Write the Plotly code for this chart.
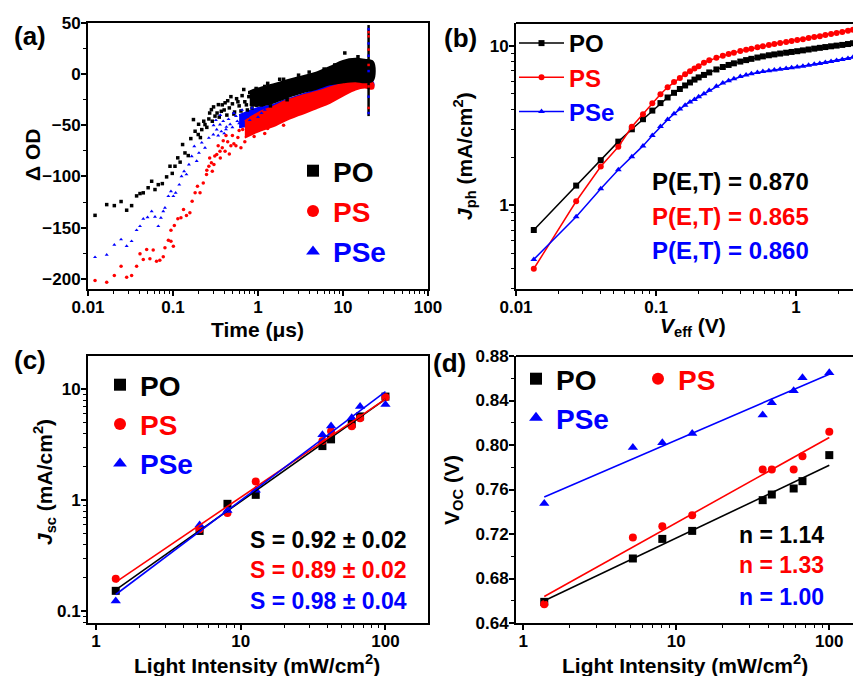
import numpy as np
import plotly.graph_objects as go

W, H = 853, 676
FONT = "Liberation Sans, Arial, sans-serif"
BLACK, RED, BLUE = "#000000", "#ff0000", "#0000ff"


def px(x):
    return x / W


def py(y):
    return 1 - y / H


# ---------------- (a) transient absorption ----------------
a_po_x = [0.0121, 0.0166, 0.0204, 0.0245, 0.0285, 0.0326, 0.0373, 0.0409, 0.0447, 0.051,
          0.0561, 0.0614, 0.0671, 0.0749, 0.0841, 0.0922, 0.098, 0.1055, 0.1138, 0.1213,
          0.1297, 0.1383, 0.1512, 0.162, 0.174, 0.182, 0.198, 0.218, 0.238, 0.264,
          0.283, 0.312, 0.342, 0.37, 0.41, 0.2, 0.21, 0.23, 0.25, 0.27,
          0.29, 0.3, 0.33, 0.35, 0.38, 0.4, 0.44, 0.46, 0.5, 0.53,
          0.56, 0.6, 0.65, 0.7, 0.75, 0.8, 0.9, 1.0, 1.1, 1.2,
          0.43, 0.48, 0.52, 0.58, 0.63, 0.68, 0.73, 0.78, 0.85, 0.95,
          1.05, 1.3, 1.4, 1.6, 1.8, 2.2, 2.6,
          2.0, 3.0, 4.0, 6.0, 8.0, 10.5, 15.0]
a_po_y = [-138, -127.5, -128.5, -124.5, -133, -128.5, -119, -116.7, -116, -111,
          -104.7, -112.8, -108, -107, -100.4, -90, -97, -90, -81.8, -86,
          -68.8, -77, -79.6, -63, -44.4, -55.8, -59, -54.2, -49.3, -43.8,
          -34.7, -41, -29.8, -36.3, -28, -49, -62, -46, -52, -38,
          -46, -32, -38, -42, -30, -35, -26, -33, -29, -37,
          -24, -31, -21, -27, -35, -18, -24, -16, -30, -12,
          -40, -22, -39, -27, -36, -15, -30, -22, -33, -14,
          -26, -9, -31, -13, -5, -25, -8,
          -5, -1, 2, 5, 9, 20.7, 17]

a_ps_x = [0.0121, 0.0166, 0.0204, 0.0245, 0.0285, 0.0326, 0.0373, 0.0409, 0.0447, 0.049,
          0.0535, 0.0585, 0.064, 0.07, 0.0768, 0.0804, 0.0882, 0.0946, 0.101, 0.0946,
          0.1037, 0.114, 0.124, 0.133, 0.144, 0.158, 0.168, 0.182, 0.194, 0.208,
          0.227, 0.248, 0.264, 0.283, 0.303, 0.327, 0.357, 0.38, 0.41, 0.25,
          0.27, 0.29, 0.31, 0.34, 0.36, 0.39, 0.44, 0.46, 0.5, 0.55,
          0.6, 0.7, 0.8, 0.9, 1.0, 1.2, 1.5,
          0.42, 0.48, 0.52, 0.58, 0.63, 0.66, 0.75, 0.85, 0.95, 1.1,
          1.3, 1.7, 2.0, 2.4]
a_ps_y = [-201.6, -203.3, -196.8, -187.7, -198.4, -196.8, -187.7, -175.6, -181.2, -171.4,
          -180.5, -172, -182.8, -181.8, -178.5, -169.7, -162.3, -163.3, -168.2, -152.5,
          -148, -141.4, -140.4, -132.3, -138.2, -135.5, -124.2, -116, -109.6, -116,
          -106.3, -98.2, -90, -86.7, -88.4, -78.6, -75.4, -72, -75.4, -94,
          -82, -95, -80, -70, -82, -65, -66, -78, -60, -70,
          -55, -66, -52, -61, -48, -58, -44,
          -60, -70, -68, -62, -72, -54, -58, -47, -55, -42,
          -53, -39, -50, -35]

a_pse_x = [0.0121, 0.0166, 0.0204, 0.0245, 0.0285, 0.0326, 0.0373, 0.0409, 0.0447, 0.0502,
           0.0561, 0.0614, 0.0671, 0.0721, 0.0768, 0.0804, 0.0882, 0.0946, 0.101, 0.1075,
           0.1185, 0.126, 0.135, 0.144, 0.154, 0.166, 0.178, 0.19, 0.202, 0.218,
           0.238, 0.264, 0.298, 0.327, 0.357, 0.39, 0.425, 0.3, 0.34, 0.37,
           0.4, 0.45, 0.5, 0.55, 0.6, 0.7, 0.8, 0.9, 1.0, 1.2,
           0.32, 0.36, 0.42, 0.47, 0.52, 0.57, 0.65, 0.75, 0.85, 1.1]
a_pse_y = [-178.9, -176.6, -166.8, -161.6, -168, -163.3, -152.5, -148.6, -141.4, -139.9,
           -134, -139.5, -148.6, -140.4, -134, -130.7, -119.3, -114.5, -119.3, -116,
           -108, -99.8, -95, -98, -88.4, -80.3, -70.5, -85, -77, -67,
           -72, -62.3, -59, -54.2, -49.3, -46, -51.6, -50, -60, -56,
           -58, -44, -52, -41, -48, -40, -45, -37, -42, -35,
           -45, -40, -54, -49, -38, -46, -35, -42, -33, -38]

# dense bands (envelopes of the point clouds)
a_po_band_x = [0.8, 1, 1.5, 2, 3, 5, 7, 10, 14, 18, 22.5]
a_po_band_top = [-17, -14, -10, -7, -3, 2, 7, 13, 15, 14, 12]
a_po_band_bot = [-30, -31, -28, -24, -19, -14, -10, -8, -7, -8, -6]
a_ps_band_x = [0.7, 1, 1.5, 2, 3, 5, 7, 10, 14, 18, 22.5]
a_ps_band_top = [-46, -38, -32, -27, -22, -17, -13, -9, -5, -6, -9]
a_ps_band_bot = [-62, -56, -51, -46, -40, -33, -28, -21, -15, -13, -14]
a_pse_band_x = [0.6, 0.8, 1, 1.5, 2, 3, 5, 7, 10, 14, 18, 22.5]
a_pse_band_top = [-40, -36, -33, -30, -26, -21, -15, -11, -7, -4, -5, -8]
a_pse_band_bot = [-52, -50, -48, -45, -42, -36, -30, -25, -19, -13, -12, -12]

a_spike_x = [20, 20]
a_spike_y = [-41, 48]
a_spike_col_x = [20, 20, 20, 20, 20, 20]
a_spike_pse_y = [-38, -22, 3, 18, 30, 44]
a_spike_ps_y = [-33, -12, 9, 24, 37, 41]

# ---------------- (b) Jph vs Veff ----------------
b_veff = [0.0134, 0.0269, 0.0403, 0.0538, 0.0672, 0.0807, 0.0941, 0.1076, 0.121, 0.1345,
          0.148, 0.1614, 0.1748, 0.1883, 0.2017, 0.22, 0.24, 0.27, 0.30, 0.33,
          0.36, 0.40, 0.44, 0.48, 0.53, 0.58, 0.64, 0.70, 0.77, 0.85,
          0.93, 1.02, 1.12, 1.23, 1.35, 1.48, 1.62, 1.78, 1.95, 2.14,
          2.35, 2.55]
b_po = [0.70, 1.33, 1.92, 2.51, 3.00, 3.47, 3.93, 4.38, 4.75, 5.08,
        5.37, 5.65, 5.90, 6.15, 6.35, 6.58, 6.82, 7.12, 7.38, 7.60,
        7.78, 7.98, 8.15, 8.30, 8.46, 8.60, 8.74, 8.85, 8.96, 9.07,
        9.17, 9.27, 9.38, 9.50, 9.62, 9.73, 9.84, 9.95, 10.05, 10.15,
        10.28, 10.40]
b_ps = [0.40, 1.06, 1.75, 2.33, 3.11, 3.73, 4.37, 4.98, 5.50, 5.95,
        6.30, 6.65, 6.95, 7.22, 7.45, 7.85, 8.12, 8.42, 8.68, 8.90,
        9.08, 9.28, 9.45, 9.62, 9.80, 9.96, 10.12, 10.27, 10.42, 10.58,
        10.73, 10.88, 11.03, 11.2, 11.36, 11.52, 11.7, 11.88, 12.05, 12.25,
        12.45, 12.65]
b_pse = [0.458, 0.848, 1.27, 1.67, 2.02, 2.36, 2.74, 3.12, 3.45, 3.75,
         4.02, 4.25, 4.45, 4.62, 4.80, 5.02, 5.28, 5.58, 5.85, 6.05,
         6.22, 6.42, 6.58, 6.70, 6.82, 6.92, 7.00, 7.06, 7.13, 7.22,
         7.30, 7.38, 7.47, 7.57, 7.67, 7.77, 7.88, 7.99, 8.10, 8.22,
         8.35, 8.48]

# ---------------- (c) Jsc vs light intensity ----------------
light = [1.37, 5.2, 8.1, 12.7, 36.7, 42.1, 58.5, 66.8, 100]
c_po = [0.153, 0.53, 0.93, 1.12, 3.08, 3.54, 4.9, 5.7, 8.6]
c_ps = [0.197, 0.55, 0.77, 1.48, 3.42, 4.2, 4.65, 5.5, 8.5]
c_pse = [0.124, 0.6, 0.81, 1.23, 3.9, 4.67, 5.54, 7.0, 7.3]

# ---------------- (d) Voc vs light intensity ----------------
d_po = [0.659, 0.698, 0.7156, 0.7228, 0.7504, 0.7555, 0.7609, 0.7675, 0.7909]
d_ps = [0.6568, 0.7168, 0.727, 0.7369, 0.778, 0.778, 0.778, 0.79, 0.8119]
d_pse = [0.7474, 0.7978, 0.802, 0.8104, 0.8269, 0.838, 0.8488, 0.8605, 0.865]

names = ["PO", "PS", "PSe"]
colors = [BLACK, RED, BLUE]
symbols = ["square", "circle", "triangle-up"]

fig = go.Figure()

# ---- (a) bands: blue, red, black
for bx, bt, bb, col in [(a_pse_band_x, a_pse_band_top, a_pse_band_bot, BLUE),
                        (a_ps_band_x, a_ps_band_top, a_ps_band_bot, RED),
                        (a_po_band_x, a_po_band_top, a_po_band_bot, BLACK)]:
    fig.add_trace(go.Scatter(x=bx + bx[::-1], y=bt + bb[::-1], mode="lines", fill="toself",
                             fillcolor=col, line=dict(color=col, width=2, shape="spline"),
                             xaxis="x", yaxis="y", showlegend=False, hoverinfo="skip"))
fig.add_trace(go.Scatter(x=a_spike_x, y=a_spike_y, mode="lines", line=dict(color=BLACK, width=2.5),
                         xaxis="x", yaxis="y", showlegend=False))
fig.add_trace(go.Scatter(x=a_spike_col_x, y=a_spike_pse_y, mode="markers",
                         marker=dict(color=BLUE, size=2.5, symbol="square"),
                         xaxis="x", yaxis="y", showlegend=False))
fig.add_trace(go.Scatter(x=a_spike_col_x, y=a_spike_ps_y, mode="markers",
                         marker=dict(color=RED, size=2.5, symbol="square"),
                         xaxis="x", yaxis="y", showlegend=False))
for xs, ys, nm, col, sym in [(a_po_x, a_po_y, "PO", BLACK, "square"),
                             (a_ps_x, a_ps_y, "PS", RED, "circle"),
                             (a_pse_x, a_pse_y, "PSe", BLUE, "triangle-up")]:
    fig.add_trace(go.Scatter(x=xs, y=ys, mode="markers", name=f'<span style="color:{col}">{nm}</span>',
                             marker=dict(color=col, size=3.5, symbol=sym),
                             xaxis="x", yaxis="y", legend="legend", legendgroup="a" + nm))

# ---- (b)
for ys, nm, col, sym in zip([b_po, b_ps, b_pse], names, colors, symbols):
    fig.add_trace(go.Scatter(x=b_veff, y=ys, mode="lines+markers",
                             name=f'<span style="color:{col}">{nm}</span>',
                             line=dict(color=col, width=1.5),
                             marker=dict(color=col, size=6, symbol=sym),
                             xaxis="x2", yaxis="y2", legend="legend2", legendgroup="b" + nm))

# ---- (c)
lx = np.log10(np.array(light))
for ys, nm, col, sym in zip([c_po, c_ps, c_pse], names, colors, symbols):
    fig.add_trace(go.Scatter(x=light, y=ys, mode="markers",
                             name=f'<span style="color:{col}">{nm}</span>',
                             marker=dict(color=col, size=9 if sym == "triangle-up" else 8, symbol=sym),
                             xaxis="x3", yaxis="y3", legend="legend3", legendgroup="c" + nm))
for ys, col in zip([c_po, c_ps, c_pse], colors):
    k, b = np.polyfit(lx, np.log10(np.array(ys)), 1)
    fx = [light[0], light[-1]]
    fy = [10 ** (k * np.log10(v) + b) for v in fx]
    fig.add_trace(go.Scatter(x=fx, y=fy, mode="lines", line=dict(color=col, width=1.6),
                             xaxis="x3", yaxis="y3", showlegend=False))

# ---- (d)
for ys, nm, col, sym, lg in zip([d_po, d_ps, d_pse], names, colors, symbols,
                                ["legend4", "legend4", "legend5"]):
    fig.add_trace(go.Scatter(x=light, y=ys, mode="markers",
                             name=f'<span style="color:{col}">{nm}</span>',
                             marker=dict(color=col, size=9 if sym == "triangle-up" else 8, symbol=sym),
                             xaxis="x4", yaxis="y4", legend=lg))
for ys, col in zip([d_po, d_ps, d_pse], colors):
    k, b = np.polyfit(lx, np.array(ys), 1)
    fx = [light[0], light[-1]]
    fy = [k * np.log10(v) + b for v in fx]
    fig.add_trace(go.Scatter(x=fx, y=fy, mode="lines", line=dict(color=col, width=1.6),
                             xaxis="x4", yaxis="y4", showlegend=False))


def log_minor(e0, e1):
    return [m * 10 ** e for e in range(e0, e1) for m in range(2, 10)]


tickfont = dict(family=FONT, size=17, color="black", weight="bold")
common = dict(showgrid=False, zeroline=False, showline=True, linecolor="black", linewidth=2,
              ticks="outside", ticklen=5, tickwidth=1.5, tickcolor="black", tickfont=tickfont,
              automargin=False, ticklabelstandoff=-3)
minor_style = dict(ticks="outside", ticklen=3, tickwidth=1.2, tickcolor="black", showgrid=False)

xa = [px(88), px(428)]
xb = [px(516), 1.0]
ya = [py(289), py(23)]
yc = [py(623), py(356)]

fig.update_layout(
    template="none",
    width=W, height=H, margin=dict(l=0, r=0, t=0, b=0, autoexpand=False),
    paper_bgcolor="white", plot_bgcolor="white",
    font=dict(family=FONT, color="black"),
    xaxis=dict(domain=xa, anchor="y", type="log", range=[-2, 2], mirror=True,
               tickvals=[0.01, 0.1, 1, 10, 100], ticktext=["0.01", "0.1", "1", "10", "100"],
               minor=dict(tickvals=log_minor(-2, 2), **minor_style), **common),
    yaxis=dict(domain=ya, anchor="x", range=[-210, 50], mirror=True,
               tickvals=[-200, -150, -100, -50, 0, 50],
               minor=dict(dtick=25, tick0=0, **minor_style), **common),
    xaxis2=dict(domain=xb, anchor="y2", type="log", range=[-2, 0.407],
                tickvals=[0.01, 0.1, 1], ticktext=["0.01", "0.1", "1"],
                minor=dict(tickvals=log_minor(-2, 1), **minor_style), **common),
    yaxis2=dict(domain=ya, anchor="x2", type="log", range=[-0.525, 1.144],
                tickvals=[1, 10], ticktext=["1", "10"],
                minor=dict(tickvals=log_minor(-1, 2), **minor_style), **common),
    xaxis3=dict(domain=xa, anchor="y3", type="log", range=[-0.055, 2.294], mirror=True,
                tickvals=[1, 10, 100], ticktext=["1", "10", "100"],
                minor=dict(tickvals=log_minor(0, 3), **minor_style), **common),
    yaxis3=dict(domain=yc, anchor="x3", type="log", range=[-1.105, 1.3], mirror=True,
                tickvals=[0.1, 1, 10], ticktext=["0.1", "1", "10"],
                minor=dict(tickvals=log_minor(-2, 2), **minor_style), **common),
    xaxis4=dict(domain=xb, anchor="y4", type="log", range=[-0.048, 2.155],
                tickvals=[1, 10, 100], ticktext=["1", "10", "100"],
                minor=dict(tickvals=log_minor(0, 3), **minor_style), **common),
    yaxis4=dict(domain=yc, anchor="x4", range=[0.64, 0.88],
                tickvals=[0.64, 0.68, 0.72, 0.76, 0.80, 0.84, 0.88],
                ticktext=["0.64", "0.68", "0.72", "0.76", "0.80", "0.84", "0.88"],
                minor=dict(dtick=0.02, tick0=0.64, **minor_style), **common),
    legend=dict(x=px(293), y=py(146), xanchor="left", yanchor="top", bgcolor="rgba(0,0,0,0)",
                font=dict(family=FONT, size=28, weight="bold"), itemsizing="constant",
                traceorder="grouped", tracegroupgap=1),
    legend2=dict(x=px(514), y=py(21), xanchor="left", yanchor="top", bgcolor="rgba(0,0,0,0)",
                 font=dict(family=FONT, size=24, weight="bold"), itemsizing="trace",
                 itemwidth=45, traceorder="grouped", tracegroupgap=0),
    legend3=dict(x=px(100), y=py(360), xanchor="left", yanchor="top", bgcolor="rgba(0,0,0,0)",
                 font=dict(family=FONT, size=28, weight="bold"), itemsizing="constant",
                 traceorder="grouped", tracegroupgap=0),
    legend4=dict(x=px(516), y=py(354), xanchor="left", yanchor="top", bgcolor="rgba(0,0,0,0)",
                 orientation="h", entrywidth=77, entrywidthmode="pixels",
                 font=dict(family=FONT, size=28, weight="bold"), itemsizing="constant"),
    legend5=dict(x=px(516), y=py(393), xanchor="left", yanchor="top", bgcolor="rgba(0,0,0,0)",
                 font=dict(family=FONT, size=28, weight="bold"), itemsizing="constant"),
)

# top border lines for the right-hand panels (cut at the image edge)
for xr, yr in [("x2", "y2"), ("x4", "y4")]:
    fig.add_shape(type="line", xref=f"{xr} domain", yref=f"{yr} domain", x0=0, x1=1, y0=1, y1=1,
                  line=dict(color="black", width=2))


def ann(text, x, y, size, color="black", angle=0, xanchor="center"):
    fig.add_annotation(text=text, x=px(x), y=py(y), xref="paper", yref="paper",
                       showarrow=False, textangle=angle, xanchor=xanchor, yanchor="middle",
                       font=dict(family=FONT, size=size, color=color, weight="bold"))


# panel labels
ann("(a)", 30, 36, 26)
ann("(b)", 460, 38, 26)
ann("(c)", 30, 360, 26)
ann("(d)", 450, 363, 26)

# axis titles
ann("Time (μs)", 257, 329, 21)
ann("<i>V</i><sub>eff</sub> (V)", 693, 327, 21)
ann("Δ OD", 32, 155, 21, angle=-90)
ann("<i>J</i><sub>ph</sub> (mA/cm<sup>2</sup>)", 464, 156, 21, angle=-90)
ann("<i>J</i><sub>sc</sub> (mA/cm<sup>2</sup>)", 44, 482, 21, angle=-90)
ann("V<sub>OC</sub> (V)", 453, 490, 21, angle=-90)
ann("Light Intensity (mW/cm<sup>2</sup>)", 257, 664, 21)
ann("Light Intensity (mW/cm<sup>2</sup>)", 685, 664, 21)

# fit / parameter texts
for t, yy, col in [("P(E,T) = 0.870", 182, BLACK), ("P(E,T) = 0.865", 217, RED),
                   ("P(E,T) = 0.860", 250, BLUE)]:
    ann(t, 650, yy, 24, color=col, xanchor="left")
for t, yy, col in [("S = 0.92 ± 0.02", 540, BLACK), ("S = 0.89 ± 0.02", 570, RED),
                   ("S = 0.98 ± 0.04", 601, BLUE)]:
    ann(t, 248, yy, 23, color=col, xanchor="left")
for t, yy, col in [("n = 1.14", 535, BLACK), ("n = 1.33", 565, RED), ("n = 1.00", 597, BLUE)]:
    ann(t, 737, yy, 23, color=col, xanchor="left")

fig.write_html("out.html")
